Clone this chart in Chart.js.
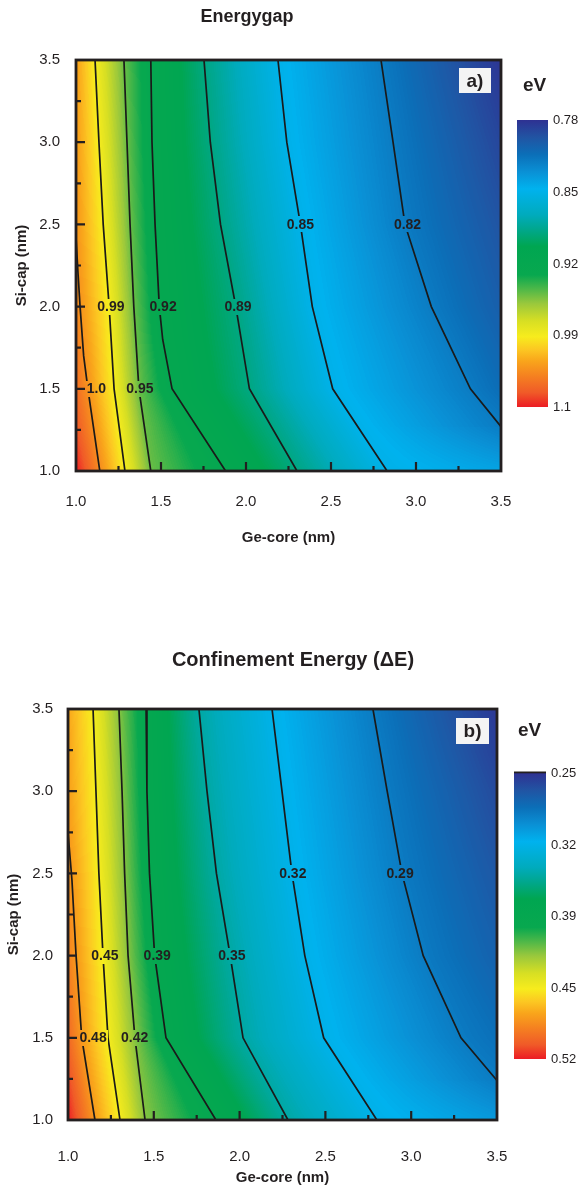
<!DOCTYPE html>
<html>
<head>
<meta charset="utf-8">
<title>Energygap / Confinement Energy</title>
<script src="https://cdn.jsdelivr.net/npm/chart.js@4.4.0/dist/chart.umd.min.js"></script>
<style>
  html, body { margin: 0; padding: 0; background: #fff; }
  .panel { width: 580px; height: 596px; }
  canvas { display: block; }
</style>
</head>
<body>
<div class="panel"><canvas id="gap" width="580" height="596"></canvas></div>
<div class="panel"><canvas id="conf" width="580" height="596"></canvas></div>
<script>
// both axes: Ge-core (x) and Si-cap (y), nm
const axisTicks = [1.0, 1.5, 2.0, 2.5, 3.0, 3.5];

// ---- a) energy gap, contour lines as [Ge-core, Si-cap] ----
const gapLevels = [1.0, 0.99, 0.95, 0.92, 0.89, 0.85, 0.82];
const gapLevelText = ['1.0', '0.99', '0.95', '0.92', '0.89', '0.85', '0.82'];
const gapLine100 = [[1.0, 2.42], [1.012, 2.2], [1.024, 2.0], [1.045, 1.7], [1.07, 1.5], [1.14, 1.0]];
const gapLine099 = [[1.112, 3.5], [1.135, 3.0], [1.16, 2.5], [1.195, 2.0], [1.224, 1.5], [1.288, 1.0]];
const gapLine095 = [[1.282, 3.5], [1.30, 3.0], [1.318, 2.5], [1.34, 2.0], [1.37, 1.5], [1.44, 1.0]];
const gapLine092 = [[1.44, 3.5], [1.447, 3.0], [1.465, 2.5], [1.49, 2.0], [1.51, 1.8], [1.565, 1.5], [1.88, 1.0]];
const gapLine089 = [[1.753, 3.5], [1.79, 3.0], [1.85, 2.5], [1.94, 2.0], [2.02, 1.5], [2.30, 1.0]];
const gapLine085 = [[2.188, 3.5], [2.24, 3.0], [2.32, 2.5], [2.39, 2.0], [2.51, 1.5], [2.83, 1.0]];
const gapLine082 = [[2.794, 3.5], [2.865, 3.0], [2.935, 2.5], [3.09, 2.0], [3.32, 1.5], [3.5, 1.27]];
const gapLabelAt = [[1.12, 1.5], [1.205, 2.0], [1.376, 1.5], [1.512, 2.0], [1.953, 2.0], [2.32, 2.5], [2.95, 2.5]];
// shading along the left and right borders, [Si-cap, eV]
const gapLeftEdge = [[1.0, 1.1], [1.25, 1.08], [1.5, 1.065], [2.0, 1.048], [2.5, 1.04], [3.0, 1.036], [3.5, 1.034]];
const gapRightEdge = [[1.0, 0.84], [1.25, 0.822], [1.5, 0.812], [2.0, 0.803], [2.5, 0.797], [3.0, 0.79], [3.5, 0.782]];
const gapBarValues = [0.78, 0.85, 0.92, 0.99, 1.1];
const gapBarText = ['0.78', '0.85', '0.92', '0.99', '1.1'];

// ---- b) confinement energy ----
const confLevels = [0.48, 0.45, 0.42, 0.39, 0.35, 0.32, 0.29];
const confLevelText = ['0.48', '0.45', '0.42', '0.39', '0.35', '0.32', '0.29'];
const confLine048 = [[1.0, 2.75], [1.023, 2.46], [1.047, 2.0], [1.08, 1.5], [1.157, 1.0]];
const confLine045 = [[1.146, 3.5], [1.163, 3.0], [1.18, 2.5], [1.204, 2.0], [1.233, 1.5], [1.303, 1.0]];
const confLine042 = [[1.297, 3.5], [1.315, 3.0], [1.33, 2.5], [1.35, 2.0], [1.39, 1.5], [1.449, 1.0]];
const confLine039 = [[1.455, 3.5], [1.46, 3.0], [1.475, 2.5], [1.505, 2.0], [1.571, 1.5], [1.862, 1.0]];
const confLine035 = [[1.763, 3.5], [1.81, 3.0], [1.865, 2.5], [1.945, 2.0], [2.02, 1.5], [2.282, 1.0]];
const confLine032 = [[2.189, 3.5], [2.247, 3.0], [2.305, 2.5], [2.38, 2.0], [2.49, 1.5], [2.80, 1.0]];
const confLine029 = [[2.777, 3.5], [2.86, 3.0], [2.946, 2.5], [3.07, 2.0], [3.29, 1.5], [3.5, 1.24]];
const confLabelAt = [[1.146, 1.5], [1.215, 2.0], [1.388, 1.5], [1.52, 2.0], [1.955, 2.0], [2.31, 2.5], [2.935, 2.5]];
const confLeftEdge = [[1.0, 0.52], [1.25, 0.51], [1.5, 0.50], [2.0, 0.49], [2.5, 0.483], [3.0, 0.478], [3.5, 0.475]];
const confRightEdge = [[1.0, 0.305], [1.25, 0.29], [1.5, 0.284], [2.0, 0.275], [2.5, 0.269], [3.0, 0.262], [3.5, 0.253]];
const confBarValues = [0.25, 0.32, 0.39, 0.45, 0.52];
const confBarText = ['0.25', '0.32', '0.39', '0.45', '0.52'];

const gapLines = [gapLine100, gapLine099, gapLine095, gapLine092, gapLine089, gapLine085, gapLine082];
const confLines = [confLine048, confLine045, confLine042, confLine039, confLine035, confLine032, confLine029];

// colour bar, top (0) to bottom (1)
const barStops = [
  [0.00, '#2e3192'], [0.06, '#2154a3'], [0.12, '#0b6fb8'], [0.18, '#0a90d5'], [0.24, '#00b2ee'],
  [0.33, '#00abbd'], [0.38, '#00a78e'], [0.44, '#00a651'], [0.54, '#08a84f'], [0.59, '#4fb848'],
  [0.64, '#9ac83c'], [0.70, '#d7df23'], [0.755, '#f7ec1d'], [0.80, '#fcc722'], [0.84, '#f9a51b'],
  [0.89, '#f58220'], [0.95, '#f05a28'], [1.00, '#ec1c24']
];

const FONT = '"Liberation Sans", Arial, Helvetica, sans-serif';
const INK = '#231f20';
Chart.defaults.font.family = FONT;
Chart.defaults.color = INK;

function hexRgb(h) {
  return [1, 3, 5].map(i => parseInt(h.slice(i, i + 2), 16));
}

// 256-step lookup table along the colour bar
const lut = [];
for (let i = 0; i < 256; i++) {
  const s = i / 255;
  let k = 0;
  while (k < barStops.length - 2 && s > barStops[k + 1][0]) k++;
  const [s0, c0] = barStops[k], [s1, c1] = barStops[k + 1];
  const t = Math.min(1, Math.max(0, (s - s0) / (s1 - s0)));
  const a = hexRgb(c0), b = hexRgb(c1);
  lut.push(a.map((v, j) => Math.round(v + (b[j] - v) * t)));
}

// value -> position on the bar (labels are evenly spaced)
function barPos(v, vals) {
  if (v <= vals[0]) return 0;
  if (v >= vals[vals.length - 1]) return 1;
  let k = 0;
  while (v > vals[k + 1]) k++;
  return (k + (v - vals[k]) / (vals[k + 1] - vals[k])) / (vals.length - 1);
}

function edgeValue(edge, y) {
  if (y <= edge[0][0]) return edge[0][1];
  for (let k = 0; k < edge.length - 1; k++) {
    const [y0, v0] = edge[k], [y1, v1] = edge[k + 1];
    if (y <= y1) return v0 + (v1 - v0) * (y - y0) / (y1 - y0);
  }
  return edge[edge.length - 1][1];
}

// x where a contour crosses the row y, or null
function crossAt(line, y) {
  for (let k = 0; k < line.length - 1; k++) {
    const [x0, y0] = line[k], [x1, y1] = line[k + 1];
    if (y0 !== y1 && (y - y0) * (y - y1) <= 0) return x0 + (x1 - x0) * (y - y0) / (y1 - y0);
  }
  return null;
}

function buildPanel(id, p) {
  let field = null;

  const contourPlugin = {
    id: 'contourShading',
    beforeDatasetsDraw(chart) {
      const {ctx, chartArea: ca, scales: {x, y}} = chart;
      const left = Math.round(ca.left), top = Math.round(ca.top);
      const w = Math.round(ca.right) - left, h = Math.round(ca.bottom) - top;
      if (!field) {
        field = ctx.createImageData(w, h);
        const d = field.data;
        for (let j = 0; j < h; j++) {
          const yv = y.getValueForPixel(top + j + 0.5);
          const row = [[x.min, edgeValue(p.leftEdge, yv)]];
          p.shadeLines.forEach((line, k) => {
            const xv = crossAt(line, yv);
            if (xv !== null) row.push([xv, p.shadeLevels[k]]);
          });
          row.push([x.max, edgeValue(p.rightEdge, yv)]);
          row.sort((m, n) => m[0] - n[0]);
          let k = 0;
          for (let i = 0; i < w; i++) {
            const xv = x.getValueForPixel(left + i + 0.5);
            while (k < row.length - 2 && xv > row[k + 1][0]) k++;
            const [x0, v0] = row[k], [x1, v1] = row[k + 1];
            const t = x1 > x0 ? Math.min(1, Math.max(0, (xv - x0) / (x1 - x0))) : 0;
            const c = lut[Math.round(barPos(v0 + (v1 - v0) * t, p.barValues) * 255)];
            const o = (j * w + i) * 4;
            d[o] = c[0]; d[o + 1] = c[1]; d[o + 2] = c[2]; d[o + 3] = 255;
          }
        }
      }
      ctx.putImageData(field, left, top);
    },

    afterDatasetsDraw(chart) {
      // contour labels sit in a gap cut out of their line
      const {ctx, chartArea: ca, scales: {x, y}} = chart;
      const left = Math.round(ca.left), top = Math.round(ca.top);
      ctx.save();
      ctx.font = 'bold 14px ' + FONT;
      ctx.textAlign = 'center';
      ctx.textBaseline = 'middle';
      ctx.fillStyle = INK;
      p.labelAt.forEach(([lx, ly], k) => {
        const px = x.getPixelForValue(lx), py = y.getPixelForValue(ly);
        const tw = ctx.measureText(p.levelText[k]).width;
        const rx = Math.round(px - tw / 2 - 1), ry = Math.round(py - 8);
        ctx.putImageData(field, left, top, rx - left, ry - top, Math.ceil(tw + 2), 16);
        ctx.fillText(p.levelText[k], px, py + 0.5);
      });
      ctx.restore();
    },

    afterDraw(chart) {
      const {ctx, chartArea: ca, scales: {x, y}} = chart;
      ctx.save();
      // frame
      ctx.strokeStyle = INK;
      ctx.lineWidth = 2.8;
      ctx.strokeRect(ca.left, ca.top, ca.right - ca.left, ca.bottom - ca.top);
      // inward ticks, major on labels and minor half way
      ctx.lineWidth = 2.2;
      ctx.beginPath();
      axisTicks.forEach((v, k) => {
        const marks = k > 0 ? [[v, 9], [(v + axisTicks[k - 1]) / 2, 5]] : [];
        marks.forEach(([mv, len]) => {
          if (mv >= axisTicks[axisTicks.length - 1]) return;
          const px = x.getPixelForValue(mv);
          ctx.moveTo(px, ca.bottom); ctx.lineTo(px, ca.bottom - len);
          const py = y.getPixelForValue(mv);
          ctx.moveTo(ca.left, py); ctx.lineTo(ca.left + len, py);
        });
      });
      ctx.stroke();

      // colour bar
      const b = p.bar;
      const g = ctx.createLinearGradient(0, b.y, 0, b.y + b.h);
      barStops.forEach(([s, c]) => g.addColorStop(s, c));
      ctx.fillStyle = g;
      ctx.fillRect(b.x, b.y, b.w, b.h);
      if (b.cap) {
        ctx.fillStyle = INK;
        ctx.fillRect(b.x, b.y - 1.5, b.w, 1.8);
      }
      ctx.fillStyle = INK;
      ctx.font = '13px ' + FONT;
      ctx.textAlign = 'left';
      ctx.textBaseline = 'middle';
      p.barText.forEach((t, k) => {
        ctx.fillText(t, b.x + b.w + 5, b.y + k * b.h / (p.barText.length - 1) + 0.5);
      });
      ctx.textAlign = 'center';
      ctx.font = 'bold 19px ' + FONT;
      ctx.fillText('eV', p.unitAt[0], p.unitAt[1]);

      // panel tag
      const [tx, ty, tw, th] = p.tagBox;
      ctx.fillStyle = '#f4f4f4';
      ctx.fillRect(tx, ty, tw, th);
      ctx.fillStyle = INK;
      ctx.font = 'bold 19px ' + FONT;
      ctx.fillText(p.tag, tx + tw / 2, ty + th / 2 + 1);

      // title
      ctx.font = 'bold ' + p.titleSize + 'px ' + FONT;
      ctx.fillText(p.title, p.titleAt[0], p.titleAt[1]);
      ctx.restore();
    }
  };

  const datasets = p.lines.map((line, k) => ({
    label: p.levelText[k],
    data: line.map(([gx, sy]) => ({x: gx, y: sy})),
    showLine: true,
    borderColor: '#1a1a1a',
    borderWidth: 1.7,
    pointRadius: 0,
    tension: 0
  }));

  const fixTicks = s => { s.ticks = axisTicks.map(v => ({value: v})); };

  return new Chart(document.getElementById(id), {
    type: 'scatter',
    data: {datasets},
    plugins: [contourPlugin],
    options: {
      responsive: false,
      devicePixelRatio: 1,
      animation: false,
      events: [],
      layout: {padding: {left: 0, top: p.pad.top, right: p.pad.right, bottom: 0}},
      plugins: {legend: {display: false}, tooltip: {enabled: false}},
      scales: {
        x: {
          type: 'linear', min: 1.0, max: 3.5,
          grid: {display: false}, border: {display: false},
          afterBuildTicks: fixTicks,
          afterFit: s => { s.height = p.xHeight; },
          ticks: {padding: p.xTickPad, font: {size: 15}, callback: v => v.toFixed(1)},
          title: {display: true, text: 'Ge-core (nm)', font: {size: 15, weight: 'bold'}, padding: {top: 0, bottom: p.xTitlePad}}
        },
        y: {
          type: 'linear', min: 1.0, max: 3.5,
          grid: {display: false}, border: {display: false},
          afterBuildTicks: fixTicks,
          afterFit: s => { s.width = p.yWidth; },
          ticks: {padding: p.yTickPad, font: {size: 15}, callback: v => v.toFixed(1)},
          title: {display: true, text: 'Si-cap (nm)', font: {size: 15, weight: 'bold'}, padding: {top: p.yTitlePad, bottom: 0}}
        }
      }
    }
  });
}

buildPanel('gap', {
  lines: gapLines, levelText: gapLevelText, labelAt: gapLabelAt,
  // the 1.0 line hugs the left border, so the shading runs from the border to 0.99
  shadeLines: gapLines.slice(1), shadeLevels: gapLevels.slice(1),
  leftEdge: gapLeftEdge, rightEdge: gapRightEdge,
  barValues: gapBarValues, barText: gapBarText,
  pad: {top: 60, right: 79}, yWidth: 76, xHeight: 125,
  xTickPad: 14, yTickPad: 8, xTitlePad: 49, yTitlePad: 13,
  bar: {x: 517, y: 120, w: 31, h: 287},
  unitAt: [534.5, 86], tag: 'a)', tagBox: [459, 68, 32, 25],
  title: 'Energygap', titleSize: 18, titleAt: [247, 17]
});

buildPanel('conf', {
  lines: confLines, levelText: confLevelText, labelAt: confLabelAt,
  shadeLines: confLines, shadeLevels: confLevels,
  leftEdge: confLeftEdge, rightEdge: confRightEdge,
  barValues: confBarValues, barText: confBarText,
  pad: {top: 113, right: 83}, yWidth: 68, xHeight: 72,
  xTickPad: 20, yTickPad: 7, xTitlePad: 5, yTitlePad: 5,
  bar: {x: 514, y: 177, w: 32, h: 286, cap: true},
  unitAt: [529.5, 135], tag: 'b)', tagBox: [456, 122, 33, 26],
  title: 'Confinement Energy (\u0394E)', titleSize: 20, titleAt: [293, 64]
});
</script>
</body>
</html>
